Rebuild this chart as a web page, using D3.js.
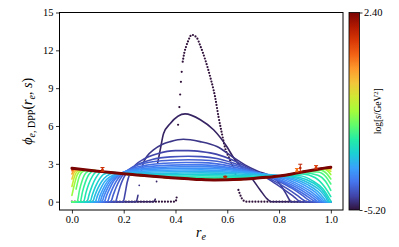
<!DOCTYPE html>
<html>
<head>
<meta charset="utf-8">
<script src="https://cdn.jsdelivr.net/npm/d3@7"></script>
<style>
  body { margin: 0; background: #fff; }
  svg text { font-family: "Liberation Serif", "Times New Roman", Times, "DejaVu Serif", serif; fill: #000; }
</style>
</head>
<body>
<svg id="chart" width="399" height="247"></svg>
<script>
// ---- data: [r_e, phi] per curve, one curve per log(s) ----
const logS = [-5.20, -5.01, -4.82, -4.67, -4.52, -4.36, -4.21, -4.06, -3.91, -3.76,
              -3.60, -3.41, -3.22, -3.03, -2.84, -2.62, -2.39, -2.16, -1.86, -1.48,
              -1.02, -0.49, 0.12, 0.80, 1.56, 2.40];

const c01 = [[0,0],[0.40,0],[0.405,0.4],[0.41,6.1],[0.415,7.5],[0.418,8.5],[0.421,9.5],[0.424,10.3],
  [0.428,11.1],[0.434,11.8],[0.441,12.3],[0.448,12.7],[0.463,13.23],[0.483,12.97],[0.495,12.4],
  [0.515,11.25],[0.534,9.9],[0.553,8.3],[0.566,6.75],[0.579,5.43],[0.592,4.23],[0.611,3.3],
  [0.624,2.65],[0.637,1.85],[0.643,0.93],[0.656,0.27],[0.667,0.03],[0.675,0],[1,0]];
const c02 = [[0,0],[0.316,0],[0.322,0.2],[0.327,1.6],[0.331,3.05],[0.341,4.1],[0.354,5.4],[0.38,6.2],
  [0.437,6.96],[0.496,6.5],[0.547,5.7],[0.598,4.37],[0.624,3.5],[0.66,2.6],[0.689,2.0],[0.727,0.93],
  [0.755,0.2],[0.77,0],[1,0]];
const c03 = [[0,0],[0.248,0],[0.255,0.5],[0.26,1.3],[0.266,2.2],[0.275,3.0],[0.29,3.6],[0.315,4.1],
  [0.35,4.55],[0.38,4.76],[0.43,4.95],[0.495,4.76],[0.56,4.37],[0.624,3.5],[0.67,2.9],[0.72,2.4],
  [0.77,2.0],[0.8,1.5],[0.825,0.7],[0.84,0.15],[0.846,0],[1,0]];
const c04 = [[0,0],[0.198,0],[0.205,0.6],[0.213,1.5],[0.225,2.3],[0.245,2.9],[0.28,3.4],[0.33,3.8],
  [0.4,4.05],[0.45,4.05],[0.5,3.97],[0.56,3.75],[0.62,3.3],[0.67,2.8],[0.72,2.25],[0.77,1.65],
  [0.82,0.95],[0.86,0.35],[0.878,0.05],[0.884,0],[1,0]];
const c05 = [[0,0],[0.168,0],[0.176,0.5],[0.186,1.2],[0.2,1.9],[0.22,2.5],[0.26,3.0],[0.31,3.35],
  [0.38,3.55],[0.45,3.6],[0.5,3.57],[0.56,3.42],[0.62,3.08],[0.67,2.7],[0.72,2.25],[0.78,1.65],
  [0.83,1.05],[0.87,0.5],[0.895,0.12],[0.905,0],[1,0]];
const c06 = [[0,0],[0.15,0],[0.159,0.5],[0.17,1.1],[0.185,1.75],[0.207,2.35],[0.242,2.8],[0.3,3.12],
  [0.38,3.28],[0.45,3.33],[0.5,3.31],[0.56,3.2],[0.62,2.93],[0.68,2.58],[0.74,2.15],[0.8,1.6],
  [0.85,1.05],[0.89,0.5],[0.915,0.12],[0.925,0],[1,0]];
const c07 = [[0,0],[0.137,0],[0.146,0.5],[0.157,1.05],[0.172,1.65],[0.194,2.2],[0.229,2.6],[0.284,2.88],
  [0.36,3.05],[0.44,3.11],[0.5,3.1],[0.56,3.0],[0.62,2.78],[0.68,2.48],[0.75,2.1],[0.81,1.6],
  [0.86,1.05],[0.9,0.55],[0.93,0.12],[0.94,0],[1,0]];
const c08 = [[0,0],[0.125,0],[0.134,0.5],[0.145,1.0],[0.16,1.6],[0.182,2.1],[0.215,2.45],[0.26,2.68],
  [0.34,2.86],[0.43,2.92],[0.5,2.92],[0.56,2.84],[0.62,2.65],[0.69,2.38],[0.76,2.05],[0.82,1.6],
  [0.87,1.1],[0.91,0.6],[0.94,0.15],[0.952,0],[1,0]];
const c09 = [[0,0],[0.116,0],[0.125,0.5],[0.136,1.0],[0.151,1.55],[0.173,2.05],[0.205,2.38],[0.25,2.56],
  [0.33,2.7],[0.42,2.77],[0.5,2.78],[0.57,2.72],[0.63,2.56],[0.7,2.33],[0.77,2.05],[0.83,1.65],
  [0.88,1.15],[0.92,0.65],[0.95,0.18],[0.962,0],[1,0]];
const c10 = [[0,0],[0.108,0],[0.117,0.5],[0.128,1.0],[0.143,1.55],[0.164,2.0],[0.195,2.3],[0.24,2.47],
  [0.32,2.58],[0.42,2.64],[0.5,2.65],[0.57,2.6],[0.64,2.46],[0.71,2.28],[0.78,2.05],[0.84,1.7],
  [0.89,1.2],[0.93,0.7],[0.958,0.2],[0.97,0],[1,0]];
const c11 = [[0,0],[0.1,0],[0.109,0.5],[0.12,1.0],[0.135,1.55],[0.155,1.95],[0.185,2.22],[0.23,2.36],
  [0.32,2.46],[0.42,2.51],[0.5,2.52],[0.58,2.47],[0.65,2.36],[0.72,2.22],[0.79,2.05],[0.85,1.75],
  [0.9,1.28],[0.94,0.75],[0.966,0.22],[0.977,0],[1,0]];
const c12 = [[0,0],[0.09,0],[0.099,0.5],[0.11,1.0],[0.125,1.55],[0.145,1.95],[0.175,2.2],[0.22,2.29],
  [0.32,2.35],[0.42,2.39],[0.5,2.4],[0.58,2.36],[0.66,2.27],[0.73,2.17],[0.8,2.05],[0.86,1.8],
  [0.91,1.35],[0.95,0.8],[0.974,0.25],[0.984,0],[1,0]];
const c13 = [[0,0],[0.08,0],[0.089,0.5],[0.1,1.05],[0.115,1.6],[0.135,2.05],[0.165,2.28],[0.21,2.25],
  [0.3,2.24],[0.4,2.26],[0.5,2.28],[0.58,2.25],[0.66,2.18],[0.74,2.1],[0.81,2.05],[0.87,1.85],
  [0.92,1.42],[0.96,0.85],[0.982,0.28],[0.99,0],[1,0]];
const c14 = [[0,0],[0.07,0],[0.079,0.55],[0.09,1.15],[0.105,1.75],[0.125,2.2],[0.155,2.32],[0.2,2.22],
  [0.3,2.14],[0.4,2.14],[0.5,2.16],[0.58,2.14],[0.66,2.08],[0.74,2.03],[0.82,2.06],[0.88,1.92],
  [0.93,1.5],[0.965,0.95],[0.987,0.3],[0.995,0],[1,0]];
const c15 = [[0,0],[0.058,0],[0.067,0.6],[0.078,1.25],[0.093,1.9],[0.113,2.35],[0.14,2.35],[0.2,2.2],
  [0.3,2.05],[0.4,2.03],[0.5,2.05],[0.58,2.03],[0.66,1.98],[0.74,1.98],[0.82,2.07],[0.88,2.05],
  [0.93,1.65],[0.97,1.0],[1,0.05]];
const c16 = [[0,0],[0.045,0],[0.054,0.7],[0.065,1.4],[0.08,2.05],[0.1,2.4],[0.13,2.37],[0.2,2.2],
  [0.3,2.03],[0.4,1.95],[0.5,1.94],[0.58,1.93],[0.66,1.9],[0.74,1.95],[0.82,2.07],[0.89,2.2],
  [0.94,1.9],[0.975,1.2],[1,0.4]];
const c17 = [[0,0],[0.032,0],[0.041,0.8],[0.052,1.55],[0.067,2.2],[0.087,2.45],[0.12,2.37],[0.2,2.2],
  [0.3,2.02],[0.4,1.9],[0.5,1.86],[0.58,1.84],[0.66,1.83],[0.74,1.92],[0.82,2.06],[0.89,2.3],
  [0.95,2.1],[0.98,1.6],[1,0.9]];
const c18 = [[0,0],[0.02,0],[0.029,0.9],[0.04,1.7],[0.055,2.3],[0.075,2.48],[0.12,2.37],[0.2,2.2],
  [0.3,2.02],[0.4,1.88],[0.5,1.8],[0.58,1.78],[0.66,1.8],[0.74,1.92],[0.82,2.06],[0.9,2.38],
  [0.95,2.35],[0.98,2.0],[1,1.4]];
const c19 = [[0,0],[0.008,0],[0.016,1.0],[0.027,1.9],[0.042,2.4],[0.062,2.5],[0.12,2.37],[0.2,2.2],
  [0.3,2.02],[0.4,1.87],[0.5,1.77],[0.58,1.75],[0.66,1.78],[0.74,1.91],[0.82,2.1],[0.9,2.4],
  [0.96,2.5],[0.985,2.2],[1,1.8]];

// large-s curves all sit on the same envelope in the middle, they only differ at the edges
const envMid = [[0.1,2.42],[0.15,2.31],[0.2,2.21],[0.25,2.12],[0.3,2.03],[0.35,1.95],[0.4,1.88],
  [0.45,1.81],[0.5,1.75],[0.55,1.72],[0.6,1.73],[0.65,1.77],[0.7,1.84],[0.75,1.93],[0.8,2.04],
  [0.85,2.2],[0.9,2.4],[0.95,2.57]];
const edgeLeft = [
  [[0,0.5],[0.01,1.4],[0.02,2.1],[0.035,2.45],[0.06,2.52]],
  [[0,1.2],[0.01,2.0],[0.025,2.45],[0.05,2.53]],
  [[0,1.8],[0.01,2.35],[0.025,2.55],[0.05,2.53]],
  [[0,2.2],[0.01,2.52],[0.03,2.57],[0.05,2.53]],
  [[0,2.45],[0.01,2.6],[0.05,2.53]],
  [[0,2.58],[0.01,2.63],[0.05,2.53]],
  [[0,2.65],[0.05,2.53]]
];
const edgeRight = [
  [[0.97,2.6],[0.99,2.4],[1,2.15]],
  [[0.975,2.62],[1,2.4]],
  [[0.975,2.65],[1,2.55]],
  [[0.975,2.66],[1,2.65]],
  [[0.975,2.66],[1,2.7]],
  [[0.975,2.66],[1,2.72]],
  [[0.975,2.66],[1,2.73]]
];

// points with error bars: r_e, phi, error, log s
const pointR   = [0.118, 0.592, 0.869, 0.882, 0.943];
const pointPhi = [2.55, 1.98, 2.5, 2.67, 2.73];
const pointErr = [0.16, 0.03, 0.13, 0.3, 0.13];
const pointS   = [1.5, 1.7, 0.6, 1.7, 1.3];

const xTicks = [0, 0.2, 0.4, 0.6, 0.8, 1.0];
const yTicks = [0, 3, 6, 9, 12, 15];
const cbTicks = [-5.2, 2.4];

// matplotlib "turbo" colours
const turboStops = ["#30123b","#4145ab","#4675ed","#39a2fc","#1bcfd4","#24eca6","#61fc6c",
  "#a4fc3b","#d1e834","#f3c63a","#fe9b2d","#f36315","#d93806","#b11901","#7a0403"];

// ---- build ----
const serif = "'Liberation Serif', 'Times New Roman', Times, 'DejaVu Serif', serif";
const curves = [c01,c02,c03,c04,c05,c06,c07,c08,c09,c10,c11,c12,c13,c14,c15,c16,c17,c18,c19];
edgeLeft.forEach((l, i) => curves.push(l.concat(envMid, edgeRight[i])));

const svg = d3.select("#chart");
const plot = { left: 59.5, right: 343, top: 12.5, bottom: 210 };

const x = d3.scaleLinear().domain([-0.048, 1.047]).range([plot.left, plot.right]);
const y = d3.scaleLinear().domain([-0.66, 15]).range([plot.bottom, plot.top]);
const turbo = d3.piecewise(d3.interpolateRgb, turboStops);
const color = d3.scaleSequential(turbo).domain([-5.2, 2.4]);

const line = d3.line().x(d => x(d[0])).y(d => y(d[1])).curve(d3.curveMonotoneX);

// the original is sampled evenly in r, so near-vertical stretches show only a few loose dots:
// split each curve there and draw the loose points as dots
const steep = (p, q) => Math.abs(y(q[1]) - y(p[1])) > 6 * Math.abs(x(q[0]) - x(p[0]));
function splitRuns(pts) {
  const runs = [[pts[0]]];
  for (let i = 1; i < pts.length; i++) {
    if (steep(pts[i - 1], pts[i])) runs.push([pts[i]]);
    else runs[runs.length - 1].push(pts[i]);
  }
  return runs;
}

const last = curves.length - 1;
const curveG = svg.append("g");
curves.forEach((pts, i) => {
  const c = color(logS[i]);
  const g = curveG.append("g");
  const runs = splitRuns(pts);
  g.selectAll("path").data(runs.filter(r => r.length > 1)).join("path")
    .attr("d", line)
    .attr("fill", "none")
    .attr("stroke", c)
    .attr("stroke-width", i === last ? 3 : i === 0 ? 2.2 : 1.6)
    .attr("stroke-linecap", "round")
    .attr("stroke-dasharray", i === 0 ? "0 3" : null);
  g.selectAll("circle").data(runs.filter(r => r.length === 1)).join("circle")
    .attr("cx", d => x(d[0][0])).attr("cy", d => y(d[0][1]))
    .attr("r", i === 0 ? 1.1 : 0.9).attr("fill", c);
});

// error bars
const pts = svg.append("g");
pointR.forEach((r, i) => {
  const c = color(pointS[i]);
  const x0 = x(r), y1 = y(pointPhi[i] - pointErr[i]), y2 = y(pointPhi[i] + pointErr[i]);
  pts.append("line").attr("x1", x0).attr("x2", x0).attr("y1", y1).attr("y2", y2)
    .attr("stroke", c).attr("stroke-width", 1);
  [y1, y2].forEach(yy => pts.append("line").attr("x1", x0 - 2).attr("x2", x0 + 2)
    .attr("y1", yy).attr("y2", yy).attr("stroke", c).attr("stroke-width", 1));
  pts.append("circle").attr("cx", x0).attr("cy", y(pointPhi[i])).attr("r", 1.3).attr("fill", c);
});

// axes
const xAxis = svg.append("g").attr("transform", `translate(0,${plot.bottom})`)
  .call(d3.axisBottom(x).tickValues(xTicks).tickFormat(d3.format(".1f")).tickSize(3.5).tickPadding(2));
const yAxis = svg.append("g").attr("transform", `translate(${plot.left},0)`)
  .call(d3.axisLeft(y).tickValues(yTicks).tickSize(3.5).tickPadding(2.5));
[xAxis, yAxis].forEach(a => {
  a.attr("font-family", serif);
  a.select(".domain").remove();
  a.selectAll("line").attr("stroke", "#000").attr("stroke-width", 0.8);
  a.selectAll("text").attr("font-size", 10.5).attr("fill", "#000");
});

svg.append("rect")
  .attr("x", plot.left).attr("y", plot.top)
  .attr("width", plot.right - plot.left).attr("height", plot.bottom - plot.top)
  .attr("fill", "none").attr("stroke", "#000").attr("stroke-width", 1);

// axis labels
const yl = svg.append("text")
  .attr("transform", `translate(32,${(plot.top + plot.bottom) / 2}) rotate(-90)`)
  .attr("text-anchor", "middle").attr("font-size", 14);
yl.append("tspan").attr("font-style", "italic").text("ϕ");
yl.append("tspan").attr("font-size", 10).attr("dy", 3).attr("font-style", "italic").text("e");
yl.append("tspan").attr("font-size", 10).text(", DPP");
yl.append("tspan").attr("dy", -3).text("(");
yl.append("tspan").attr("font-style", "italic").text("r");
yl.append("tspan").attr("font-size", 10).attr("dy", 3).attr("font-style", "italic").text("e");
yl.append("tspan").attr("dy", -3).text(", ");
yl.append("tspan").attr("font-style", "italic").text("s");
yl.append("tspan").text(")");

const xl = svg.append("text").attr("x", 201).attr("y", 237)
  .attr("text-anchor", "middle").attr("font-size", 14);
xl.append("tspan").attr("font-style", "italic").text("r");
xl.append("tspan").attr("font-size", 10).attr("dy", 3).attr("font-style", "italic").text("e");

// colour bar
const cb = { x: 349, w: 10.5 };
const grad = svg.append("defs").append("linearGradient").attr("id", "turbo")
  .attr("x1", 0).attr("x2", 0).attr("y1", 1).attr("y2", 0);
grad.selectAll("stop").data(turboStops).join("stop")
  .attr("offset", (d, i) => i / (turboStops.length - 1))
  .attr("stop-color", d => d);
svg.append("rect").attr("x", cb.x).attr("y", plot.top).attr("width", cb.w)
  .attr("height", plot.bottom - plot.top).attr("fill", "url(#turbo)")
  .attr("stroke", "#000").attr("stroke-width", 0.8);

const cbScale = d3.scaleLinear().domain([-5.2, 2.4]).range([plot.bottom, plot.top]);
const cbAxis = svg.append("g").attr("transform", `translate(${cb.x + cb.w},0)`)
  .call(d3.axisRight(cbScale).tickValues(cbTicks).tickFormat(d => d.toFixed(2)).tickSize(3).tickPadding(1.5));
cbAxis.attr("font-family", serif);
cbAxis.select(".domain").remove();
cbAxis.selectAll("line").attr("stroke", "#000").attr("stroke-width", 0.8);
cbAxis.selectAll("text").attr("font-size", 10.5).attr("fill", "#000");

const cl = svg.append("text")
  .attr("transform", `translate(381,${(plot.top + plot.bottom) / 2}) rotate(-90)`)
  .attr("text-anchor", "middle").attr("font-size", 9.5);
cl.append("tspan").text("log[");
cl.append("tspan").attr("font-style", "italic").text("s");
cl.append("tspan").text("/GeV");
cl.append("tspan").attr("font-size", 6.5).attr("dy", -3.5).text("2");
cl.append("tspan").attr("dy", 3.5).text("]");
</script>
</body>
</html>
